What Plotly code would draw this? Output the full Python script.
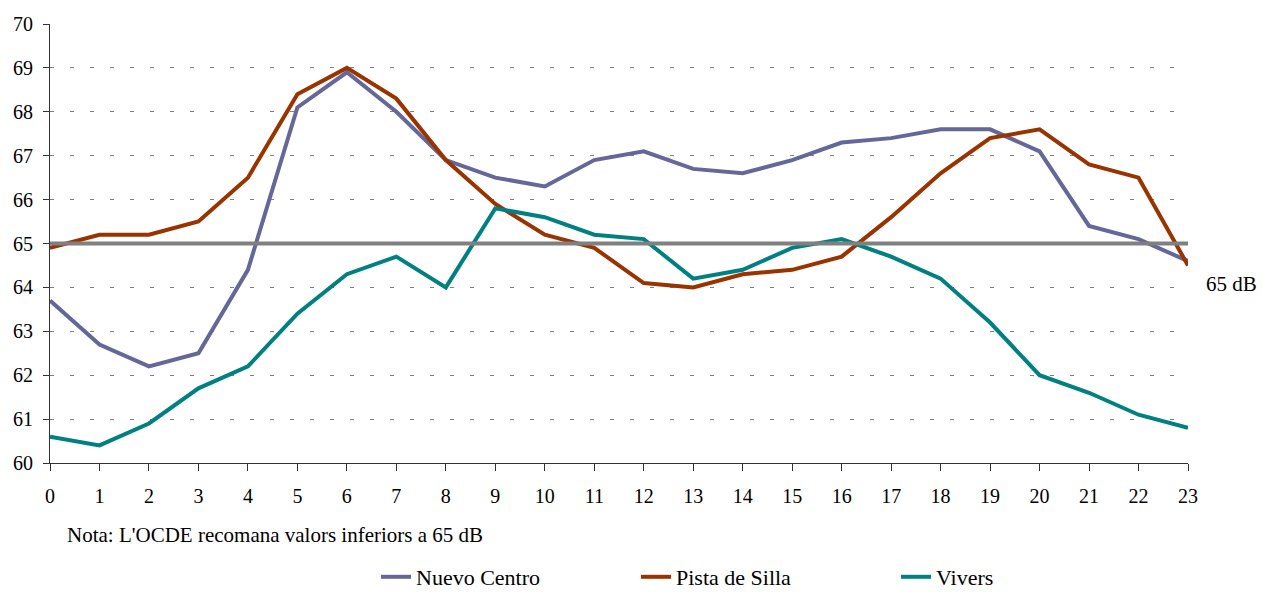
import plotly.graph_objects as go

hours = list(range(24))
nuevo_centro = [63.7, 62.7, 62.2, 62.5, 64.4, 68.1, 68.9, 68.0, 66.9, 66.5, 66.3, 66.9,
                67.1, 66.7, 66.6, 66.9, 67.3, 67.4, 67.6, 67.6, 67.1, 65.4, 65.1, 64.6]
pista_de_silla = [64.9, 65.2, 65.2, 65.5, 66.5, 68.4, 69.0, 68.3, 66.9, 65.9, 65.2, 64.9,
                  64.1, 64.0, 64.3, 64.4, 64.7, 65.6, 66.6, 67.4, 67.6, 66.8, 66.5, 64.5]
vivers = [60.6, 60.4, 60.9, 61.7, 62.2, 63.4, 64.3, 64.7, 64.0, 65.8, 65.6, 65.2,
          65.1, 64.2, 64.4, 64.9, 65.1, 64.7, 64.2, 63.2, 62.0, 61.6, 61.1, 60.8]
limit_value = 65
limit_line = [limit_value] * len(hours)

series_names = ["Nuevo Centro", "Pista de Silla", "Vivers"]
series_colors = ["#666699", "#993300", "#008080"]
series_values = [nuevo_centro, pista_de_silla, vivers]

FONT = "Liberation Serif"

fig = go.Figure()
for name, color, vals in zip(series_names, series_colors, series_values):
    fig.add_trace(go.Scatter(x=hours, y=vals, mode="lines", name=name,
                             line=dict(color=color, width=4)))
fig.add_trace(go.Scatter(x=hours, y=limit_line, mode="lines", showlegend=False,
                         line=dict(color="#808080", width=4), hoverinfo="skip"))

fig.add_annotation(x=23, y=limit_value, xref="x", yref="y", text="65 dB",
                   showarrow=False, xanchor="left", yanchor="middle", xshift=16, yshift=-40,
                   font=dict(family=FONT, size=21, color="black"))
fig.add_annotation(x=0, y=0, xref="paper", yref="paper", text="Nota: L'OCDE recomana valors inferiors a 65 dB",
                   showarrow=False, xanchor="left", yanchor="middle", xshift=15, yshift=-72,
                   font=dict(family=FONT, size=21, color="black"))

fig.update_layout(
    width=1262, height=592,
    margin=dict(l=50, r=74, t=24, b=129),
    plot_bgcolor="white", paper_bgcolor="white",
    font=dict(family=FONT, size=20, color="black"),
    showlegend=True,
    legend=dict(orientation="h", xref="container", yref="container",
                x=376 / 1262, xanchor="left", y=15 / 592, yanchor="middle",
                entrywidth=215, entrywidthmode="pixels",
                font=dict(family=FONT, size=22, color="black"),
                itemwidth=30, tracegroupgap=0, bgcolor="rgba(0,0,0,0)"),
    xaxis=dict(range=[0, 23], tickmode="array", tickvals=hours, ticktext=[str(h) for h in hours],
               showgrid=False, zeroline=False, showline=True, linecolor="#333333", linewidth=1,
               ticks="outside", ticklen=7, tickcolor="#333333", ticklabelstandoff=8,
               automargin=False,
               tickfont=dict(family=FONT, size=20, color="black")),
    yaxis=dict(range=[60, 70], dtick=1, tick0=60,
               showgrid=True, gridcolor="#808080", gridwidth=1, griddash="4px,16px",
               zeroline=False, showline=True, linecolor="#333333", linewidth=1,
               ticks="outside", ticklen=6, tickcolor="#333333", ticklabelstandoff=6,
               automargin=False,
               tickfont=dict(family=FONT, size=20, color="black")),
)

fig.write_html("out.html", config={"displayModeBar": False},
               post_script="document.body.style.margin='0';")
